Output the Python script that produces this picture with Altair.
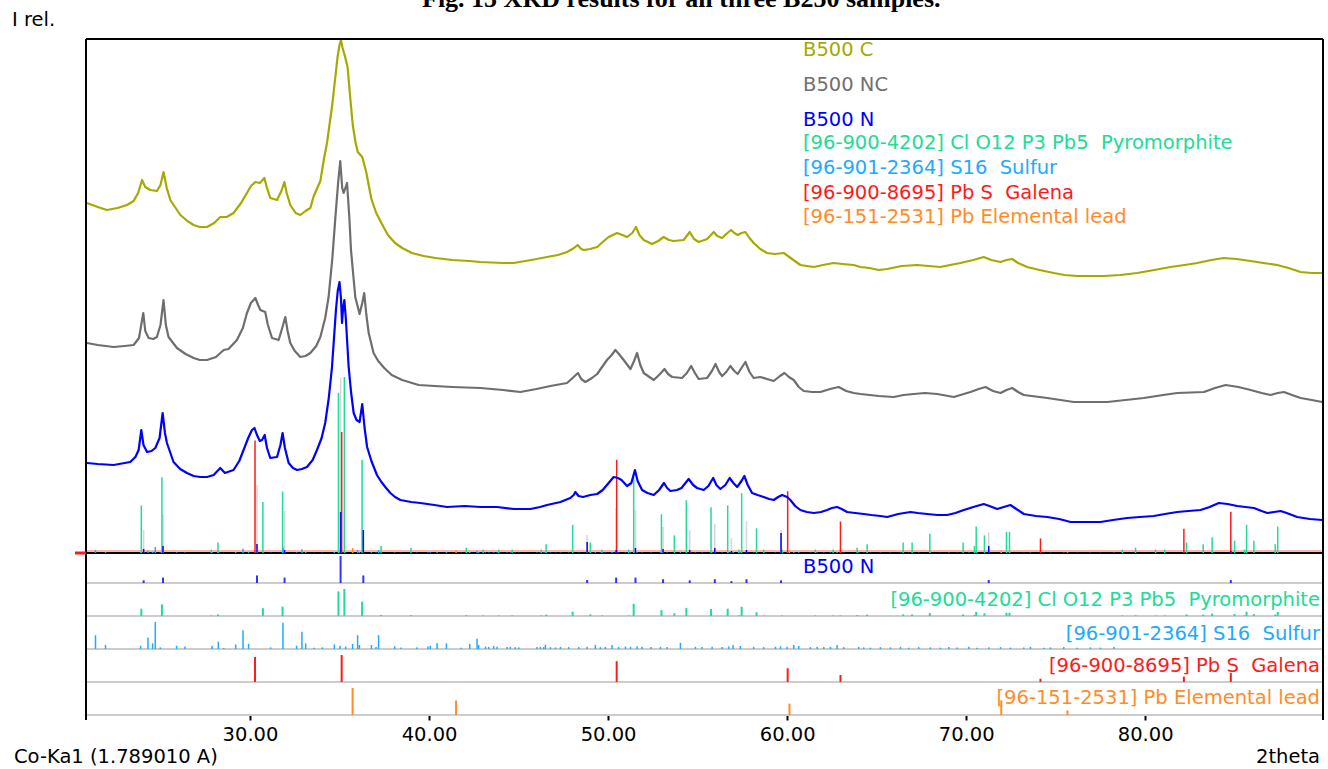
import altair as alt
import pandas as pd

# ---------------------------------------------------------------- scan data
# (2theta, relative intensity) for the three stacked patterns
b500c = [
    (20.89, 350), (21.5, 346), (22.01, 343), (22.6, 345), (23.13, 348), (23.5, 352),
    (23.75, 360), (23.97, 373), (24.15, 366), (24.43, 363), (24.8, 362), (25.0, 368),
    (25.17, 381), (25.35, 365), (25.55, 353), (26.11, 338), (26.5, 332), (26.85, 328),
    (27.2, 326), (27.6, 326), (28.0, 330), (28.34, 336), (28.7, 336), (29.08, 340),
    (29.5, 350), (29.83, 360), (30.05, 367), (30.3, 371), (30.55, 370), (30.8, 375),
    (30.95, 365), (31.13, 355), (31.51, 353), (31.75, 362), (31.92, 371), (32.05, 360),
    (32.25, 348), (32.55, 340), (32.81, 338), (33.1, 342), (33.37, 345), (33.56, 357),
    (33.93, 372), (34.13, 394), (34.3, 410), (34.6, 449), (34.89, 496), (35.0, 508),
    (35.08, 513), (35.17, 505), (35.27, 499), (35.45, 486), (35.6, 455), (35.74, 428),
    (35.9, 410), (36.02, 401), (36.27, 396), (36.49, 381), (36.78, 354), (37.05, 340),
    (37.34, 330), (37.7, 318), (38.1, 310), (38.5, 305), (39.04, 300), (39.7, 297),
    (40.36, 295), (41.3, 293), (42.25, 292), (42.87, 291), (44.14, 290), (44.73, 290),
    (45.7, 293), (46.59, 296), (47.2, 298), (47.71, 301), (48.1, 305), (48.3, 308),
    (48.5, 304), (48.64, 303), (49.0, 304), (49.39, 306), (49.7, 311), (50.03, 316),
    (50.5, 320), (50.8, 318), (51.06, 316), (51.35, 320), (51.56, 326), (51.75, 318),
    (51.99, 313), (52.46, 309), (52.8, 312), (53.1, 316), (53.4, 313), (53.66, 312),
    (54.22, 313), (54.56, 321), (54.8, 314), (55.06, 311), (55.53, 314), (55.9, 321),
    (56.1, 317), (56.37, 315), (56.6, 319), (56.87, 323), (57.05, 320), (57.24, 318),
    (57.45, 320), (57.67, 321), (57.9, 315), (58.13, 310), (58.5, 304), (58.88, 300),
    (59.3, 299), (59.81, 300), (60.2, 295), (60.74, 288), (61.1, 287), (61.49, 286),
    (62.0, 288), (62.6, 290), (63.1, 289), (63.72, 288), (64.1, 286), (64.6, 285),
    (65.12, 283), (65.59, 284), (66.4, 287), (67.26, 288), (67.9, 287), (68.56, 286),
    (69.1, 288), (69.68, 290), (70.4, 293), (70.98, 296), (71.4, 293), (71.92, 291),
    (72.25, 293), (72.57, 294), (72.9, 290), (73.41, 286), (74.1, 283), (74.89, 280),
    (75.5, 278), (76.2, 277), (77.0, 277), (77.69, 277), (78.6, 278), (79.55, 280),
    (80.5, 283), (81.41, 286), (82.2, 288), (82.9, 290), (83.7, 293), (84.39, 295),
    (85.1, 294), (85.88, 292), (86.6, 290), (87.37, 288), (88.0, 285), (88.68, 281),
    (89.3, 280), (89.89, 280),
]

b500nc = [
    (20.89, 210), (21.5, 208), (22.38, 206), (23.0, 207), (23.5, 208), (23.8, 215),
    (24.04, 240), (24.15, 222), (24.34, 215), (24.6, 214), (24.8, 216), (25.0, 228),
    (25.17, 253), (25.3, 228), (25.45, 216), (25.92, 205), (26.4, 199), (26.85, 195),
    (27.2, 193), (27.6, 193), (28.1, 196), (28.53, 203), (28.8, 204), (29.27, 213),
    (29.6, 225), (29.83, 240), (30.05, 250), (30.3, 255), (30.45, 248), (30.58, 243),
    (30.85, 241), (31.0, 228), (31.23, 215), (31.6, 213), (31.8, 225), (31.97, 236),
    (32.1, 222), (32.25, 210), (32.5, 202), (32.81, 196), (33.1, 197), (33.37, 200),
    (33.7, 207), (33.93, 216), (34.2, 235), (34.39, 256), (34.6, 295), (34.77, 336),
    (34.92, 370), (35.04, 392), (35.15, 365), (35.23, 360), (35.42, 370), (35.55, 335),
    (35.64, 303), (35.88, 256), (36.12, 239), (36.27, 250), (36.38, 260), (36.5, 238),
    (36.63, 220), (36.9, 200), (37.16, 192), (37.5, 185), (37.91, 178), (38.5, 173),
    (39.42, 168), (40.3, 167), (41.31, 166), (42.87, 165), (44.14, 163), (45.1, 161),
    (46.0, 164), (46.78, 167), (47.71, 170), (48.32, 180), (48.5, 174), (48.73, 171),
    (49.1, 175), (49.39, 179), (49.94, 193), (50.2, 198), (50.41, 203), (50.65, 198),
    (50.87, 193), (51.25, 184), (51.45, 192), (51.62, 200), (51.8, 188), (51.99, 180),
    (52.55, 173), (52.9, 179), (53.15, 184), (53.35, 179), (53.58, 176), (54.13, 175),
    (54.4, 180), (54.64, 187), (54.85, 180), (55.06, 174), (55.53, 175), (55.8, 182),
    (56.0, 189), (56.2, 181), (56.37, 177), (56.6, 181), (56.83, 187), (57.05, 182),
    (57.24, 179), (57.45, 185), (57.67, 191), (57.9, 181), (58.13, 175), (58.5, 176),
    (58.88, 174), (59.25, 172), (59.6, 177), (59.85, 180), (60.1, 176), (60.37, 173),
    (60.65, 166), (60.93, 162), (61.4, 161), (61.86, 161), (62.4, 164), (62.88, 166),
    (63.3, 162), (63.72, 160), (64.1, 159), (64.6, 158), (65.12, 157), (65.96, 156),
    (66.5, 158), (67.07, 159), (67.7, 160), (68.38, 159), (69.31, 156), (70.24, 161),
    (70.7, 164), (71.08, 166), (71.5, 162), (71.92, 160), (72.25, 163), (72.57, 165),
    (72.9, 161), (73.22, 158), (74.53, 155), (76.01, 151), (77.88, 151), (79.92, 155),
    (81.0, 158), (81.79, 160), (83.28, 161), (83.9, 165), (84.49, 168), (85.2, 166),
    (85.89, 163), (86.5, 160), (87.0, 158), (87.4, 160), (87.75, 161), (88.2, 158),
    (88.68, 155), (89.3, 153), (89.89, 151),
]

b500n = [
    (20.89, 90), (21.5, 89), (22.38, 88), (23.0, 90), (23.31, 91), (23.6, 96),
    (23.78, 103), (23.93, 123), (24.05, 108), (24.25, 101), (24.5, 102), (24.71, 105),
    (24.95, 115), (25.12, 140), (25.25, 120), (25.36, 110), (25.73, 91), (26.1, 84),
    (26.48, 80), (26.85, 77), (27.22, 76), (27.6, 76), (27.97, 78), (28.34, 85),
    (28.6, 80), (29.08, 83), (29.4, 92), (29.64, 103), (29.9, 115), (30.11, 123),
    (30.25, 125), (30.39, 118), (30.55, 112), (30.67, 113), (30.82, 118), (30.95, 105),
    (31.13, 95), (31.51, 96), (31.7, 108), (31.82, 120), (31.95, 105), (32.16, 90),
    (32.4, 85), (32.63, 83), (32.9, 84), (33.18, 86), (33.5, 93), (33.74, 103),
    (34.0, 115), (34.2, 130), (34.4, 155), (34.58, 186), (34.8, 243), (34.9, 262),
    (35.0, 271), (35.08, 255), (35.14, 230), (35.2, 245), (35.27, 253), (35.35, 235),
    (35.51, 186), (35.65, 160), (35.79, 140), (35.95, 133), (36.12, 131), (36.27, 149),
    (36.4, 125), (36.54, 106), (36.78, 92), (37.09, 78), (37.34, 71), (37.6, 65),
    (37.84, 60), (38.1, 56), (38.4, 53), (39.0, 51), (39.51, 50), (40.3, 48),
    (41.0, 46), (42.0, 47), (42.87, 46), (43.8, 46), (44.73, 44), (45.66, 44),
    (46.2, 46), (46.59, 48), (47.34, 51), (47.89, 55), (48.08, 58), (48.17, 61),
    (48.35, 57), (48.6, 56), (49.01, 58), (49.39, 59), (49.7, 63), (50.03, 70),
    (50.31, 76), (50.55, 75), (50.75, 73), (51.06, 67), (51.3, 70), (51.5, 83),
    (51.65, 72), (51.9, 63), (52.2, 60), (52.55, 58), (52.85, 63), (53.12, 70),
    (53.3, 65), (53.48, 62), (53.85, 63), (54.1, 65), (54.5, 74), (54.75, 68),
    (54.97, 65), (55.34, 63), (55.6, 67), (55.87, 75), (56.05, 68), (56.27, 64),
    (56.55, 68), (56.79, 75), (57.0, 70), (57.21, 66), (57.45, 72), (57.61, 77),
    (57.8, 68), (58.04, 60), (58.35, 58), (58.69, 56), (59.0, 54), (59.25, 53),
    (59.5, 56), (59.72, 58), (60.0, 56), (60.18, 53), (60.45, 47), (60.74, 43),
    (61.1, 41), (61.49, 40), (61.9, 41), (62.23, 43), (62.5, 45), (62.79, 46),
    (63.05, 44), (63.35, 41), (63.8, 40), (64.28, 39), (64.7, 38), (65.21, 37),
    (65.59, 36), (66.2, 39), (66.89, 41), (67.3, 40), (67.82, 39), (68.4, 38),
    (68.94, 38), (69.4, 40), (69.87, 43), (70.4, 46), (70.98, 49), (71.3, 47),
    (71.73, 44), (72.1, 46), (72.47, 48), (72.8, 44), (73.22, 39), (73.9, 37),
    (74.53, 36), (75.2, 34), (75.83, 31), (76.6, 31), (77.5, 31), (78.2, 33),
    (78.99, 35), (79.7, 36), (80.48, 37), (81.1, 39), (81.79, 41), (82.4, 42),
    (83.09, 43), (83.6, 46), (84.11, 50), (84.6, 49), (85.14, 47), (85.6, 46),
    (86.07, 45), (86.5, 42), (86.82, 40), (87.2, 41), (87.56, 42), (87.9, 40),
    (88.49, 36), (89.2, 34), (89.89, 33),
]

# ------------------------------------------------------- reference patterns
# (2theta, relative intensity %) of each database card
pyromorphite = [
    (23.93, 27), (25.08, 43), (27.84, 2), (28.21, 6), (30.72, 29), (31.82, 35),
    (34.94, 91), (35.27, 100), (36.26, 53), (37.32, 4), (38.99, 3), (42.08, 3),
    (43.02, 2), (43.89, 2), (44.64, 2), (46.27, 2), (46.54, 5), (48.02, 16),
    (49.01, 6), (49.66, 2), (51.15, 2), (51.43, 45), (52.98, 22), (53.70, 10),
    (54.37, 30), (55.75, 26), (56.68, 27), (57.30, 2), (57.46, 34), (58.29, 14),
    (58.69, 2), (59.72, 2), (61.58, 2), (62.57, 2), (62.98, 2), (63.91, 3),
    (64.47, 5), (66.48, 6), (66.98, 6), (67.97, 11), (69.83, 6), (70.46, 4),
    (70.56, 15), (71.02, 10), (72.25, 12), (72.42, 12), (78.72, 2), (79.46, 3),
    (80.58, 2), (81.09, 2), (82.31, 6), (83.24, 5), (83.74, 9), (84.99, 7),
    (85.55, 2), (85.66, 16), (86.07, 7), (87.26, 5), (87.40, 15),
]

galena = [
    (30.28, 93), (35.12, 100), (50.48, 77), (60.03, 51), (62.98, 26),
    (74.15, 12), (82.16, 20), (84.78, 34),
]

lead = [(35.73, 100), (41.51, 54), (60.13, 42), (71.96, 54), (75.66, 17)]

sulfur = [
    (21.37, 51), (21.93, 15), (23.89, 12), (24.30, 43), (24.56, 21), (24.71, 100),
    (24.99, 6), (25.90, 12), (26.37, 9), (27.88, 12), (28.23, 27), (28.53, 4),
    (29.20, 17), (29.61, 69), (29.92, 19), (31.15, 6), (31.84, 97), (32.60, 12),
    (32.90, 64), (33.11, 21), (33.58, 5), (34.04, 6), (34.71, 17), (35.03, 12),
    (35.34, 9), (35.73, 19), (36.01, 51), (36.11, 15), (36.78, 15), (37.04, 7),
    (37.18, 51), (38.08, 10), (38.44, 6), (39.31, 6), (39.94, 9), (40.07, 12),
    (40.45, 21), (40.97, 21), (41.79, 5), (42.27, 19), (42.68, 38), (42.77, 15),
    (43.15, 9), (43.33, 8), (43.61, 11), (43.80, 8), (44.36, 7), (44.54, 8),
    (44.82, 7), (45.01, 6), (46.03, 7), (46.22, 8), (46.40, 7), (46.50, 16),
    (46.78, 7), (47.06, 6), (47.34, 8), (47.80, 7), (48.36, 7), (48.83, 8),
    (49.29, 15), (49.57, 7), (49.85, 8), (50.22, 15), (50.59, 7), (50.97, 9),
    (51.25, 8), (51.62, 10), (51.90, 8), (52.40, 7), (52.92, 8), (53.30, 7),
    (54.04, 23), (54.88, 8), (55.25, 7), (55.81, 8), (56.37, 7), (56.74, 9),
    (56.98, 15), (57.39, 11), (58.13, 8), (58.69, 7), (59.35, 8), (59.63, 10),
    (60.00, 8), (60.37, 15), (60.65, 11), (61.30, 7), (61.68, 8), (62.05, 7),
    (62.42, 8), (62.79, 15), (63.16, 7), (64.00, 8), (64.28, 6), (64.65, 5),
    (65.21, 7), (65.77, 6), (66.33, 8), (66.79, 5), (67.35, 7), (68.00, 6),
    (68.56, 5), (69.03, 7), (69.50, 6), (70.15, 8), (70.61, 5), (71.26, 6),
    (71.92, 7), (72.47, 5), (73.22, 6), (73.59, 8), (74.34, 5), (74.71, 6),
    (75.45, 7), (76.20, 5), (76.94, 6), (77.50, 5), (78.25, 7),
]

# B500 N peak list: (2theta, marker height, highlighted height, list intensity %)
b500n_peaks = [
    (24.06, 23, 4, 10), (25.14, 38, 7, 20), (30.39, 68, 9, 28), (31.93, 42, 3, 20),
    (35.06, 175, 41, 100), (36.33, 20, 23, 28), (48.83, 18, 11, 11), (50.45, 45, 3, 20),
    (51.53, 43, 5, 20), (53.07, 26, 4, 14), (54.56, 23, 3, 10), (55.96, 29, 5, 14),
    (56.89, 15, 2, 7), (57.73, 32, 3, 14), (59.66, 23, 20, 10), (71.26, 21, 7, 11),
    (84.78, 5, 2, 11),
]

# phase captions (non-breaking space keeps the double gaps)
NB = "\u00a0"
CAP_PYRO = f"[96-900-4202] Cl O12 P3 Pb5{NB} Pyromorphite"
CAP_S = f"[96-901-2364] S16{NB} Sulfur"
CAP_PBS = f"[96-900-8695] Pb S{NB} Galena"
CAP_PB = "[96-151-2531] Pb Elemental lead"

# ------------------------------------------------------------------ layout
W, H = 1237, 676
X_DOMAIN = [20.84, 89.93]
Y_DOMAIN = [-162, 514]
FONT = "DejaVu Sans"

C_C, C_NC, C_N = "#a5aa00", "#6e6e6e", "#0000ff"
C_PYRO, C_S, C_PBS, C_PB = "#20dc96", "#20aaff", "#ff1a1a", "#ff8c28"
C_MARK = "#d6d6d6"

# strip baselines (row order: B500 N, pyromorphite, sulfur, galena, lead)
STRIP_BASE = {"n": -30, "pyro": -63, "s": -96, "pbs": -129, "pb": -162}
STRIP_SCALE = 0.27
MAIN_SCALE = {"pyro": 1.76, "pbs": 1.21, "s": 0.06, "pb": 0.05}

xscale = alt.Scale(domain=X_DOMAIN, nice=False, zero=False)
yscale = alt.Scale(domain=Y_DOMAIN, nice=False, zero=False)
xaxis = alt.Axis(values=[30, 40, 50, 60, 70, 80], format=".2f", title=None,
                 domain=False, grid=False, tickSize=5, tickWidth=2,
                 tickColor="black", labelFont=FONT, labelFontSize=19.5,
                 labelColor="black", labelPadding=5)


def X(field="theta"):
    return alt.X(f"{field}:Q", scale=xscale, axis=xaxis)


def trace_df(pairs):
    return pd.DataFrame(pairs, columns=["theta", "I"])


def stick_df(pairs, lo, factor):
    df = pd.DataFrame(pairs, columns=["theta", "pct"])
    df["lo"] = lo
    df["hi"] = lo + df["pct"] * factor
    return df


def sticks(df, color, width=1.5, opacity=1.0):
    return alt.Chart(df).mark_rule(color=color, strokeWidth=width, opacity=opacity).encode(
        x=X(), y=alt.Y("lo:Q", scale=yscale, axis=None), y2="hi:Q")


def hline(value, color, width):
    return alt.Chart(pd.DataFrame({"v": [value]})).mark_rule(
        color=color, strokeWidth=width).encode(y=alt.Y("v:Q", scale=yscale, axis=None))


def label(text, x, y, color, size=19.5, align="left", font=FONT, weight="normal",
          baseline="middle"):
    return alt.Chart(pd.DataFrame({"t": [text]})).mark_text(
        align=align, baseline=baseline, font=font, fontSize=size, fontWeight=weight,
        color=color).encode(x=alt.value(x), y=alt.value(y), text="t:N")


layers = []

# separators between the stick strips
layers += [hline(v, "#cccccc", 2) for v in STRIP_BASE.values()]

# main-panel baseline
layers.append(hline(2, "#ffb4b4", 2))
layers.append(hline(0, "black", 2))

# stick patterns in the main panel
peaks = pd.DataFrame(b500n_peaks, columns=["theta", "mark", "hl", "pct"])
peaks["lo"] = 0
layers.append(alt.Chart(peaks).mark_rule(color=C_MARK, strokeWidth=1.5).encode(
    x=X(), y=alt.Y("lo:Q", scale=yscale, axis=None), y2="mark:Q"))
layers.append(sticks(stick_df(pyromorphite, 0, MAIN_SCALE["pyro"]), C_PYRO))
layers.append(sticks(stick_df(galena, 0, MAIN_SCALE["pbs"]), C_PBS))
layers.append(sticks(stick_df(sulfur, 0, MAIN_SCALE["s"]), C_S))
layers.append(sticks(stick_df(lead, 0, MAIN_SCALE["pb"]), C_PB))
layers.append(alt.Chart(peaks).mark_rule(color=C_N, strokeWidth=1.5).encode(
    x=X(), y=alt.Y("lo:Q", scale=yscale, axis=None), y2="hl:Q"))

# stick strips below the main panel
layers.append(sticks(stick_df([(t, p) for t, _, _, p in b500n_peaks], STRIP_BASE["n"], STRIP_SCALE), C_N, 2, 0.8))
layers.append(sticks(stick_df(pyromorphite, STRIP_BASE["pyro"], STRIP_SCALE), C_PYRO, 2))
layers.append(sticks(stick_df(sulfur, STRIP_BASE["s"], STRIP_SCALE), C_S, 1.5))
layers.append(sticks(stick_df(galena, STRIP_BASE["pbs"], STRIP_SCALE), C_PBS, 2))
layers.append(sticks(stick_df(lead, STRIP_BASE["pb"], STRIP_SCALE), C_PB, 2))

# measured patterns
for pairs, color in [(b500c, C_C), (b500nc, C_NC), (b500n, C_N)]:
    layers.append(alt.Chart(trace_df(pairs)).mark_line(
        color=color, strokeWidth=2.2, strokeJoin="round").encode(
        x=X(), y=alt.Y("I:Q", scale=yscale, axis=None)))

# frame
frame = pd.DataFrame({"k": [0]})
layers.append(alt.Chart(frame).mark_rule(color="black", strokeWidth=2).encode(
    x=alt.value(0), x2=alt.value(W), y=alt.value(0)))
layers.append(alt.Chart(frame).mark_rule(color="black", strokeWidth=2).encode(
    x=alt.value(0), y=alt.value(0), y2=alt.value(H + 5)))
layers.append(alt.Chart(frame).mark_rule(color="black", strokeWidth=2).encode(
    x=alt.value(W), y=alt.value(0), y2=alt.value(H + 5)))
layers.append(alt.Chart(frame).mark_rule(color="#ff1a1a", strokeWidth=3).encode(
    x=alt.value(-11), x2=alt.value(0), y=alt.Y("k:Q", scale=yscale, axis=None)))

# legend block
LX = 717
for text, y, color in [
    ("B500 C", 11, C_C),
    ("B500 NC", 46, "#707070"),
    ("B500 N", 81, C_N),
    (CAP_PYRO, 104, C_PYRO),
    (CAP_S, 129, C_S),
    (CAP_PBS, 154, C_PBS),
    (CAP_PB, 178, C_PB),
]:
    layers.append(label(text, LX, y, color))

# strip captions
layers.append(label("B500 N", LX, 528, C_N))
for text, y, color in [
    (CAP_PYRO, 561, C_PYRO),
    (CAP_S, 595, C_S),
    (CAP_PBS, 627, C_PBS),
    (CAP_PB, 659, C_PB),
]:
    layers.append(label(text, W - 3, y, color, align="right"))

# axis captions and heading
layers.append(label("I rel.", -74, -19, "black"))
layers.append(label("Co-Ka1 (1.789010 A)", -72, 718, "black"))
layers.append(label("2theta", W - 3, 718, "black", align="right"))
layers.append(label("Fig. 15  XRD results for all three B250 samples.", 336, -32, "black",
                    size=26, font="Liberation Serif", weight="bold", baseline="alphabetic"))

chart = alt.layer(*layers).properties(
    width=W, height=H,
    autosize=alt.AutoSizeParams(type="none"),
    padding={"left": 86, "top": 39, "right": 5, "bottom": 54},
).configure_view(strokeWidth=0)

chart.save("out.html", embed_options={"renderer": "svg", "actions": False})
